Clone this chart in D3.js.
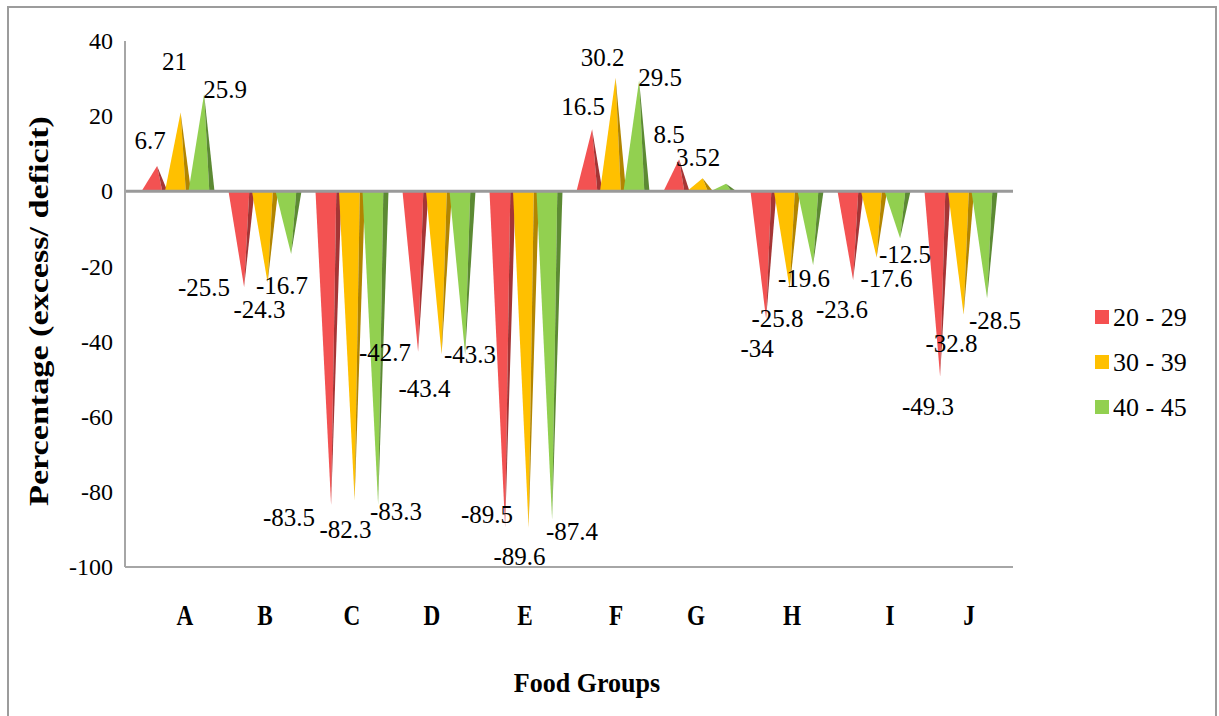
<!DOCTYPE html>
<html><head><meta charset="utf-8">
<script src="https://cdn.jsdelivr.net/npm/d3@7"></script>
<style>
html,body{margin:0;padding:0;background:#fff;}
</style></head>
<body>
<svg id="chart" width="1219" height="716"></svg>
<script>
const categories = ["A","B","C","D","E","F","G","H","I","J"];
const seriesNames = ["20 - 29","30 - 39","40 - 45"];
const values2029 = [6.7,-25.5,-83.5,-42.7,-89.5,16.5,8.5,-34,-23.6,-49.3];
const values3039 = [21,-24.3,-82.3,-43.4,-89.6,30.2,3.5,-25.8,-17.6,-32.8];
const values4045 = [25.9,-16.7,-83.3,-43.3,-87.4,29.5,2,-19.6,-12.5,-28.5];
const yTicks = [40,20,0,-20,-40,-60,-80,-100];

// label placement offsets (px) relative to cone tip, per series
const labelDx = [
  [-7,-40,-42,-33,-18,-9,-10,-9,-11,-12],
  [-6,-8,-9,-17,-9,-13,-11,-12,10,-12],
  [21,-9,18,5,20,21,-12,-9,5,8]
];
const labelDy = [
  [-26,0,12,1,-13,-23,-25,29,29,30],
  [-51,27,29,34,28,-21,-21,30,21,29],
  [-5,31,7,0,12,-3,-27,13,16,22]
];
// small horizontal nudges of category labels (px)
const catLabelDx = [7,0,0,-7,-1,3,-4,5,16,8];

const FONT = "Liberation Serif";
const lightColors = ["#F35252","#FFC000","#92D050"];
const darkColors = ["#A53535","#B28500","#5C8A33"];
const legendColors = ["#F55050","#FFC000","#92D050"];

const seriesValues = [values2029, values3039, values4045];
const svg = d3.select("#chart");

// outer border
svg.append("rect").attr("x",8).attr("y",7).attr("width",1208).attr("height",730)
  .attr("fill","#fff").attr("stroke","#9c9c9c").attr("stroke-width",2);

const y = d3.scaleLinear().domain([-100,40]).range([567,41]);
const x = d3.scaleBand().domain(categories).range([134.5,1004.5]);
const plotLeft = 125, plotRight = 1013;

const coneW = 26, step = 23.5;
const offsets = [-step,0,step];

const cones = svg.append("g");
categories.forEach((c,i)=>{
  const cx = x(c) + x.bandwidth()/2;
  seriesValues.forEach((vals,s)=>{
    const v = vals[i];
    const x0 = cx + offsets[s] - coneW/2;
    const apexX = x0 + 0.6*coneW;
    const xs = x0 + 0.8*coneW;
    const x2 = x0 + coneW;
    const y0 = y(0), yt = y(v);
    cones.append("path")
      .attr("d",`M${x0},${y0}L${apexX},${yt}L${xs},${y0}Z`)
      .attr("fill",lightColors[s]);
    cones.append("path")
      .attr("d",`M${xs},${y0}L${apexX},${yt}L${x2},${y0}Z`)
      .attr("fill",darkColors[s]);
  });
});

// axes lines
svg.append("line").attr("x1",plotLeft).attr("x2",plotRight).attr("y1",y(-100)).attr("y2",y(-100))
  .attr("stroke","#a6a6a6").attr("stroke-width",2);
svg.append("line").attr("x1",plotLeft).attr("x2",plotRight).attr("y1",y(0)).attr("y2",y(0))
  .attr("stroke","#9a9a9a").attr("stroke-width",3);
svg.append("line").attr("x1",plotLeft).attr("x2",plotLeft).attr("y1",y(40)).attr("y2",y(-100))
  .attr("stroke","#a6a6a6").attr("stroke-width",2);

// y axis tick labels
const yAxis = d3.axisLeft(y).tickValues(yTicks).tickSize(0).tickPadding(12).tickFormat(d=>String(d));
const gy = svg.append("g").attr("transform",`translate(${plotLeft},0)`).call(yAxis)
  .attr("font-family",FONT).attr("font-size",24);
gy.select(".domain").remove();
gy.selectAll("text").style("font-family",FONT).style("font-size","24px").attr("fill","#000");

// x axis category labels
const xAxis = d3.axisBottom(x).tickSize(0).tickPadding(0);
const gx = svg.append("g").call(xAxis).attr("font-family",FONT);
gx.select(".domain").remove();
gx.selectAll(".tick").each(function(d,i){
  const t = d3.select(this);
  const px = x(d) + x.bandwidth()/2 + catLabelDx[i];
  t.attr("transform",null);
  t.select("text")
    .attr("y",0).attr("dy",0)
    .style("font-family",FONT).style("font-size","29px").style("font-weight","bold")
    .attr("fill","#000")
    .attr("transform",`translate(${px},625) scale(0.8,1)`);
});

// data labels
const labels = svg.append("g");
categories.forEach((c,i)=>{
  const cx = x(c) + x.bandwidth()/2;
  seriesValues.forEach((vals,s)=>{
    const v = vals[i];
    const x0 = cx + offsets[s] - coneW/2;
    const apexX = x0 + 0.6*coneW;
    labels.append("text")
      .attr("x",apexX + labelDx[s][i])
      .attr("y",y(v) + labelDy[s][i])
      .attr("dy","0.35em")
      .attr("text-anchor","middle")
      .style("font-family",FONT)
      .style("font-size","25px")
      .text(v);
  });
});

// axis titles
svg.append("text").attr("transform","translate(48,311) rotate(-90) scale(1.22,1)")
  .attr("text-anchor","middle").style("font-family",FONT).style("font-size","28px").style("font-weight","bold")
  .text("Percentage (excess/ deficit)");
svg.append("text").attr("transform","translate(587,692) scale(0.93,1)")
  .attr("text-anchor","middle").style("font-family",FONT).style("font-size","28px").style("font-weight","bold")
  .text("Food Groups");

// legend
const legend = svg.append("g");
seriesNames.forEach((n,s)=>{
  const cy = 317 + s*45;
  legend.append("rect").attr("x",1095).attr("y",cy-7).attr("width",14).attr("height",14).attr("fill",legendColors[s]);
  legend.append("text").attr("x",1113).attr("y",cy).attr("dy","0.35em")
    .style("font-family",FONT).style("font-size","26px").text(n);
});
</script>
</body></html>
